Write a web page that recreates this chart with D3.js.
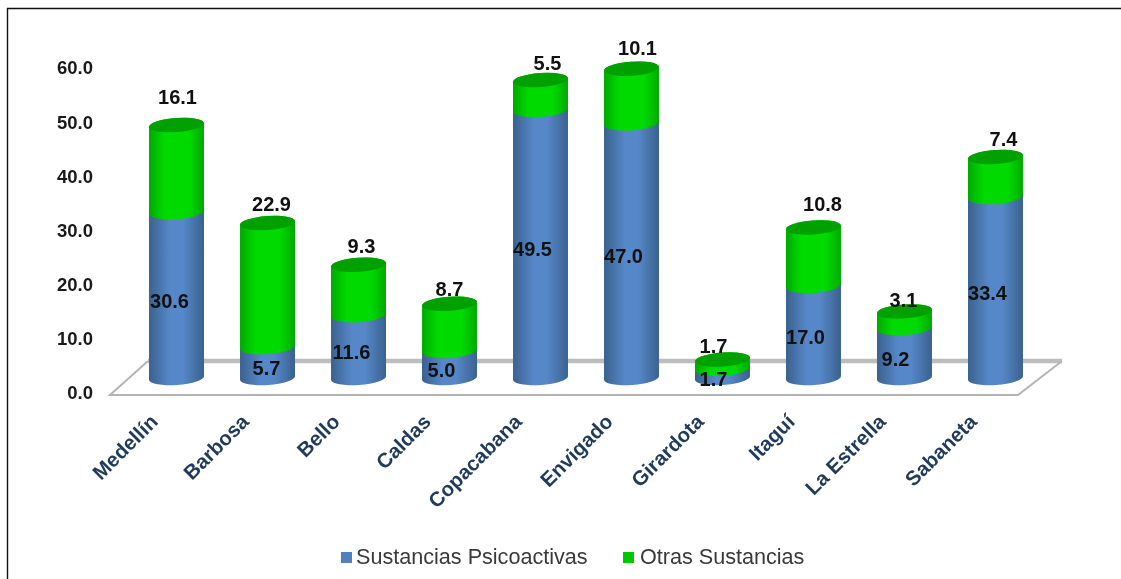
<!DOCTYPE html>
<html><head><meta charset="utf-8">
<script src="https://cdnjs.cloudflare.com/ajax/libs/d3/7.8.5/d3.min.js"></script>
<style>html,body{margin:0;padding:0;background:#fff}svg{display:block;filter:blur(0.45px)}text{font-family:"Liberation Sans",Arial,sans-serif}</style>
</head><body><svg id="chart" width="1121" height="579"></svg>
<script>
const categories=["Medellín","Barbosa","Bello","Caldas","Copacabana","Envigado","Girardota","Itaguí","La Estrella","Sabaneta"];
const psicoactivas=[30.6,5.7,11.6,5.0,49.5,47.0,1.7,17.0,9.2,33.4];
const otras=[16.1,22.9,9.3,8.7,5.5,10.1,1.7,10.8,3.1,7.4];
const seriesNames=["Sustancias Psicoactivas","Otras Sustancias"];
const yTicks=[0,10,20,30,40,50,60];
// hand-placed label nudges seen in the source chart
const topNudge=[[1,-28],[4,-19],[3,-19],[0,-15],[7,-17],[6,-21],[-9,-14],[9,-23],[-1,-11],[8,-18]];
const lowNudgeX=[-7,-1,-7,-8,-8,-8,-9,-8,-9,-8];

const svg=d3.select("#chart");
const x=d3.scaleBand().domain(categories).range([113,1059]).padding(0.396);
const y=d3.scaleLinear().domain([0,60]).range([378,53]);
const yFront=d3.scaleLinear().domain([0,60]).range([393,68]);
const rx=x.bandwidth()/2, ry=7, tilt=2, rot=-4;
const defs=svg.append("defs");
function grad(id,a,b,p){
  const g=defs.append("linearGradient").attr("id",id);
  [[0,a],[p,b],[1-p,b],[1,a]].forEach(s=>g.append("stop").attr("offset",s[0]).attr("stop-color",s[1]));
}
grad("gb","#3a628f","#5687c8",.38);
grad("gg","#00a900","#00da00",.28);

// frame
svg.append("path").attr("d","M7.5,579V8.5H1121").attr("fill","none").attr("stroke","#111").attr("stroke-width",1.4);
// floor
svg.append("path").attr("d","M148,361H1062").attr("stroke","#bdbdbd").attr("stroke-width",4.5).attr("fill","none");
svg.append("path").attr("d","M148,361L110,395H1018L1062,361").attr("stroke","#b4b4b4").attr("stroke-width",2).attr("fill","none");

// y axis
const ax=svg.append("g").attr("transform","translate(100,0)").call(d3.axisLeft(yFront).tickValues(yTicks).tickFormat(d3.format(".1f")).tickSize(0).tickPadding(7));
ax.select(".domain").remove();
ax.selectAll("text").attr("font-size",18.5).attr("font-weight","bold").attr("fill","#1a1a1a").style("font-family",'"Liberation Sans"');

function cyl(cx,y0,y1){
  const L=cx-rx,R=cx+rx;
  return `M${L},${y1+tilt}L${L},${y0+tilt}A${rx},${ry},${rot},0,0,${R},${y0-tilt}L${R},${y1-tilt}A${rx},${ry},${rot},0,0,${L},${y1+tilt}Z`;
}
function cap(cx,yy){
  const L=cx-rx,R=cx+rx;
  return `M${L},${yy+tilt}A${rx},${ry},${rot},1,1,${R},${yy-tilt}A${rx},${ry},${rot},1,1,${L},${yy+tilt}Z`;
}
svg.append("g").selectAll("g").data(categories).join("g").each(function(name,i){
  const g=d3.select(this),cx=x(name)+rx,a=psicoactivas[i],b=otras[i];
  g.append("path").attr("d",cyl(cx,y(0),y(a))).attr("fill","url(#gb)");
  g.append("path").attr("d",cyl(cx,y(a),y(a+b))).attr("fill","url(#gg)");
  g.append("path").attr("d",cap(cx,y(a+b))).attr("fill","#00a000");
});
const lab=svg.append("g").attr("font-size",20).attr("font-weight","bold").attr("fill","#111").attr("text-anchor","middle").attr("dominant-baseline","central");
categories.forEach((name,i)=>{
  const cx=x(name)+rx,a=psicoactivas[i],b=otras[i];
  lab.append("text").attr("x",cx+lowNudgeX[i]).attr("y",y(a/2)+5.5).text(a.toFixed(1));
  lab.append("text").attr("x",cx+topNudge[i][0]).attr("y",y(a+b)+topNudge[i][1]).text(b.toFixed(1));
});
// category labels
svg.append("g").selectAll("text").data(categories).join("text")
 .attr("transform",d=>`translate(${x(d)+rx-17.5},${423}) rotate(-45)`)
 .attr("text-anchor","end").attr("font-size",20.5).attr("font-weight","bold").attr("fill","#1f3a5a").text(d=>d);
// legend
const lx=[341,623], tx=[356,640], swatch=["#4f81bd","#00c800"];
seriesNames.forEach((n,i)=>{
  svg.append("rect").attr("x",lx[i]).attr("y",552).attr("width",11).attr("height",11).attr("fill",swatch[i]);
  svg.append("text").attr("x",tx[i]).attr("y",564).attr("font-size",21.6).attr("fill","#3a3a3a").text(n);
});
</script></body></html>
